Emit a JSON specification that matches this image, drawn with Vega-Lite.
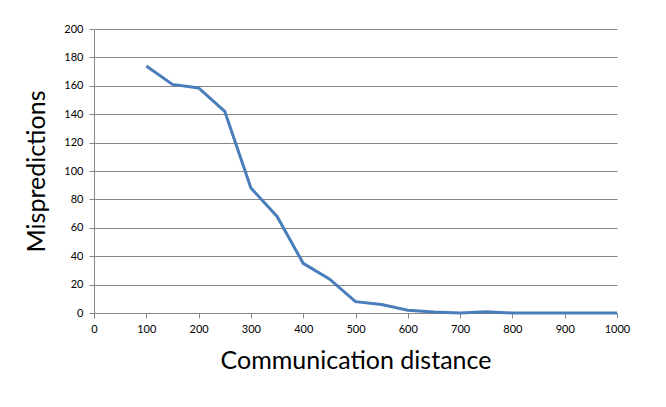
{
  "$schema": "https://vega.github.io/schema/vega-lite/v6.json",
  "width": 523,
  "height": 284,
  "autosize": {"type": "none"},
  "padding": {"left": 94, "top": 29, "right": 49, "bottom": 94},
  "background": "white",
  "config": {
    "view": {"stroke": null},
    "font": "Lato"
  },
  "data": {
    "values": [
      {"distance": 100, "mispredictions": 174},
      {"distance": 150, "mispredictions": 161},
      {"distance": 200, "mispredictions": 158.5},
      {"distance": 250, "mispredictions": 142},
      {"distance": 300, "mispredictions": 88},
      {"distance": 350, "mispredictions": 68},
      {"distance": 400, "mispredictions": 35},
      {"distance": 450, "mispredictions": 24},
      {"distance": 500, "mispredictions": 8},
      {"distance": 550, "mispredictions": 6},
      {"distance": 600, "mispredictions": 2},
      {"distance": 650, "mispredictions": 0.7},
      {"distance": 700, "mispredictions": 0},
      {"distance": 750, "mispredictions": 0.8},
      {"distance": 800, "mispredictions": 0},
      {"distance": 850, "mispredictions": 0},
      {"distance": 900, "mispredictions": 0},
      {"distance": 950, "mispredictions": 0},
      {"distance": 1000, "mispredictions": 0}
    ]
  },
  "mark": {"type": "line", "color": "#4A7EBB", "strokeWidth": 3},
  "encoding": {
    "x": {
      "field": "distance",
      "type": "quantitative",
      "scale": {"domain": [0, 1000], "nice": false},
      "axis": {
        "values": [0, 100, 200, 300, 400, 500, 600, 700, 800, 900, 1000],
        "format": "d",
        "grid": false,
        "domainColor": "#868686",
        "tickColor": "#868686",
        "tickSize": 5,
        "labelFontSize": 11,
        "labelColor": "#000000",
        "labelPadding": 5,
        "labelFlush": false,
        "title": "Communication distance",
        "titleFontSize": 25,
        "titleFontWeight": "normal",
        "titleColor": "#000000",
        "titlePadding": 14
      }
    },
    "y": {
      "field": "mispredictions",
      "type": "quantitative",
      "scale": {"domain": [0, 200], "nice": false},
      "axis": {
        "values": [0, 20, 40, 60, 80, 100, 120, 140, 160, 180, 200],
        "format": "d",
        "grid": true,
        "gridColor": "#868686",
        "gridWidth": 1,
        "domainColor": "#868686",
        "tickColor": "#868686",
        "tickSize": 5,
        "labelFontSize": 11,
        "labelColor": "#000000",
        "labelPadding": 6,
        "labelFlush": false,
        "title": "Mispredictions",
        "titleFontSize": 25,
        "titleFontWeight": "normal",
        "titleColor": "#000000",
        "titlePadding": 14
      }
    }
  }
}
